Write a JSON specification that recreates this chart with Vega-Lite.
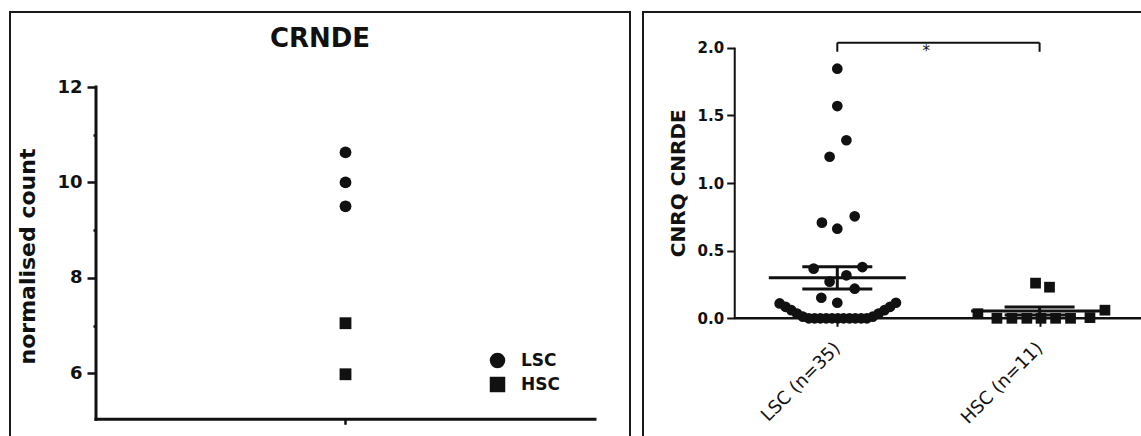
{
  "$schema": "https://vega.github.io/schema/vega-lite/v6.json",
  "background": "white",
  "padding": {"left": 9, "top": 11, "right": 0, "bottom": 0},
  "spacing": 11,
  "config": {
    "view": {"stroke": "#1a1a1a", "strokeWidth": 2},
    "font": "DejaVu Sans",
    "axis": {"grid": false, "domain": false, "labelColor": "#111", "tickColor": "#111", "titleColor": "#111", "labelOverlap": false, "labelFlush": false}
  },
  "datasets": {
    "crnde_counts": [
      {"group": "LSC", "count": 10.63},
      {"group": "LSC", "count": 10.0},
      {"group": "LSC", "count": 9.5},
      {"group": "HSC", "count": 7.05},
      {"group": "HSC", "count": 5.98}
    ],
    "cnrq": [
      {"group": "LSC", "g": 1, "slot": 1.0, "cnrq": 1.845},
      {"group": "LSC", "g": 1, "slot": 1.0, "cnrq": 1.569},
      {"group": "LSC", "g": 1, "slot": 1.045, "cnrq": 1.316},
      {"group": "LSC", "g": 1, "slot": 0.962, "cnrq": 1.194},
      {"group": "LSC", "g": 1, "slot": 1.086, "cnrq": 0.754},
      {"group": "LSC", "g": 1, "slot": 0.924, "cnrq": 0.707},
      {"group": "LSC", "g": 1, "slot": 1.0, "cnrq": 0.662},
      {"group": "LSC", "g": 1, "slot": 0.883, "cnrq": 0.367},
      {"group": "LSC", "g": 1, "slot": 1.124, "cnrq": 0.379},
      {"group": "LSC", "g": 1, "slot": 1.045, "cnrq": 0.318},
      {"group": "LSC", "g": 1, "slot": 0.962, "cnrq": 0.271},
      {"group": "LSC", "g": 1, "slot": 1.086, "cnrq": 0.219},
      {"group": "LSC", "g": 1, "slot": 0.921, "cnrq": 0.152},
      {"group": "LSC", "g": 1, "slot": 1.0, "cnrq": 0.115},
      {"group": "LSC", "g": 1, "slot": 0.715, "cnrq": 0.11},
      {"group": "LSC", "g": 1, "slot": 0.744, "cnrq": 0.085},
      {"group": "LSC", "g": 1, "slot": 0.773, "cnrq": 0.06},
      {"group": "LSC", "g": 1, "slot": 0.801, "cnrq": 0.035},
      {"group": "LSC", "g": 1, "slot": 0.83, "cnrq": 0.012},
      {"group": "LSC", "g": 1, "slot": 0.859, "cnrq": 0.0},
      {"group": "LSC", "g": 1, "slot": 0.888, "cnrq": 0.0},
      {"group": "LSC", "g": 1, "slot": 0.916, "cnrq": 0.0},
      {"group": "LSC", "g": 1, "slot": 0.945, "cnrq": 0.0},
      {"group": "LSC", "g": 1, "slot": 0.974, "cnrq": 0.0},
      {"group": "LSC", "g": 1, "slot": 1.003, "cnrq": 0.0},
      {"group": "LSC", "g": 1, "slot": 1.031, "cnrq": 0.0},
      {"group": "LSC", "g": 1, "slot": 1.06, "cnrq": 0.0},
      {"group": "LSC", "g": 1, "slot": 1.089, "cnrq": 0.0},
      {"group": "LSC", "g": 1, "slot": 1.118, "cnrq": 0.0},
      {"group": "LSC", "g": 1, "slot": 1.146, "cnrq": 0.0},
      {"group": "LSC", "g": 1, "slot": 1.175, "cnrq": 0.012},
      {"group": "LSC", "g": 1, "slot": 1.204, "cnrq": 0.035},
      {"group": "LSC", "g": 1, "slot": 1.233, "cnrq": 0.06},
      {"group": "LSC", "g": 1, "slot": 1.261, "cnrq": 0.085},
      {"group": "LSC", "g": 1, "slot": 1.29, "cnrq": 0.115},
      {"group": "HSC", "g": 2, "slot": 1.98, "cnrq": 0.26},
      {"group": "HSC", "g": 2, "slot": 2.049, "cnrq": 0.23},
      {"group": "HSC", "g": 2, "slot": 1.695, "cnrq": 0.034},
      {"group": "HSC", "g": 2, "slot": 1.789, "cnrq": 0.0},
      {"group": "HSC", "g": 2, "slot": 1.863, "cnrq": 0.0},
      {"group": "HSC", "g": 2, "slot": 1.937, "cnrq": 0.0},
      {"group": "HSC", "g": 2, "slot": 2.007, "cnrq": 0.0},
      {"group": "HSC", "g": 2, "slot": 2.079, "cnrq": 0.0},
      {"group": "HSC", "g": 2, "slot": 2.153, "cnrq": 0.0},
      {"group": "HSC", "g": 2, "slot": 2.249, "cnrq": 0.005},
      {"group": "HSC", "g": 2, "slot": 2.323, "cnrq": 0.06}
    ]
  },
  "hconcat": [
    {
      "width": 620,
      "height": 430,
      "title": {"text": "CRNDE", "font": "DejaVu Sans", "fontSize": 26, "fontWeight": "bold", "color": "#111", "anchor": "middle", "frame": "group", "offset": -61, "baseline": "alphabetic"},
      "layer": [
        {
          "data": {"name": "crnde_counts"},
          "mark": {"type": "point", "filled": true, "opacity": 1, "color": "#111", "size": 140},
          "encoding": {
            "x": {
              "datum": 1, "type": "quantitative",
              "scale": {"domain": [-0.3447, 2.1403], "nice": false, "zero": false},
              "axis": {"values": [1], "labels": false, "title": null, "tickSize": 5, "tickWidth": 2.5, "offset": -22.7, "orient": "bottom"}
            },
            "y": {
              "field": "count", "type": "quantitative",
              "scale": {"domain": [4.5608, 13.5717], "nice": false, "zero": false},
              "axis": {
                "values": [6, 7, 8, 9, 10, 11, 12],
                "labelExpr": "datum.value % 2 === 0 ? datum.label : ''",
                "tickSize": {"condition": {"test": "datum.value % 2 === 0", "value": 9}, "value": 3},
                "tickWidth": 2.5,
                "offset": -86,
                "labelFont": "DejaVu Sans", "labelFontSize": 18, "labelFontWeight": "bold", "labelPadding": 5,
                "title": "normalised count",
                "titleFont": "DejaVu Sans", "titleFontSize": 22, "titleFontWeight": "bold",
                "titleAngle": -90, "titleX": -61.5, "titleY": 244, "titleAlign": "center", "titleBaseline": "alphabetic"
              }
            },
            "shape": {
              "field": "group", "type": "nominal",
              "scale": {"domain": ["LSC", "HSC"], "range": ["circle", "square"]},
              "legend": {
                "orient": "none", "legendX": 479, "legendY": 340, "title": null, "padding": 0,
                "symbolSize": 240, "symbolFillColor": "#111", "symbolStrokeColor": "#111", "symbolStrokeWidth": 0,
                "labelFont": "DejaVu Sans", "labelFontSize": 17, "labelFontWeight": "bold", "labelColor": "#111",
                "labelOffset": 15, "rowPadding": 6
              }
            }
          }
        },
        {
          "data": {"values": [{}]},
          "mark": {"type": "rule", "color": "#111", "strokeWidth": 3, "strokeCap": "square"},
          "encoding": {
            "x": {"datum": 0, "type": "quantitative"},
            "y": {"datum": 5.0365, "type": "quantitative"},
            "y2": {"datum": 12}
          }
        },
        {
          "data": {"values": [{}]},
          "mark": {"type": "rule", "color": "#111", "strokeWidth": 3, "strokeCap": "square"},
          "encoding": {
            "x": {"datum": 0, "type": "quantitative"},
            "x2": {"datum": 2},
            "y": {"datum": 5.0365, "type": "quantitative"}
          }
        }
      ]
    },
    {
      "width": 510,
      "height": 432,
      "layer": [
        {
          "data": {"name": "cnrq"},
          "mark": {"type": "point", "filled": true, "opacity": 1, "color": "#111", "size": 115},
          "encoding": {
            "x": {
              "field": "slot", "type": "quantitative",
              "scale": {"domain": [0.0395, 2.5606], "nice": false, "zero": false},
              "axis": {
                "values": [1, 2],
                "labelExpr": "datum.value === 1 ? 'LSC (n=35)' : 'HSC (n=11)'",
                "labelAngle": -45, "labelAlign": "right", "labelBaseline": "middle",
                "labelFont": "DejaVu Sans", "labelFontSize": 18, "labelPadding": 19,
                "tickSize": 8, "tickWidth": 2, "offset": -125.7, "title": null, "orient": "bottom"
              }
            },
            "y": {
              "field": "cnrq", "type": "quantitative",
              "title": "CNRQ CNRDE",
              "scale": {"domain": [-0.929, 2.2639], "nice": false, "zero": false},
              "axis": {
                "values": [0, 0.5, 1, 1.5, 2], "format": ".1f",
                "offset": -91.7, "tickSize": 8, "tickWidth": 2,
                "labelFont": "DejaVu Sans", "labelFontSize": 15, "labelFontWeight": "bold", "labelPadding": 3,
                "title": "CNRQ CNRDE",
                "titleFont": "DejaVu Sans", "titleFontSize": 20, "titleFontWeight": "bold",
                "titleAngle": -90, "titleX": -50, "titleY": 170.7, "titleAlign": "center", "titleBaseline": "alphabetic"
              }
            },
            "shape": {
              "field": "group", "type": "nominal",
              "scale": {"domain": ["LSC", "HSC"], "range": ["circle", "square"]},
              "legend": null
            }
          }
        },
        {
          "data": {"values": [{}]},
          "mark": {"type": "rule", "color": "#111", "strokeWidth": 2},
          "encoding": {
            "x": {"datum": 0.493, "type": "quantitative"},
            "y": {"datum": 0, "type": "quantitative"},
            "y2": {"datum": 2}
          }
        },
        {
          "data": {"values": [{}]},
          "mark": {"type": "rule", "color": "#111", "strokeWidth": 2.5},
          "encoding": {
            "x": {"datum": 0.493, "type": "quantitative"},
            "x2": {"datum": 2.5606},
            "y": {"datum": 0, "type": "quantitative"}
          }
        },
        {
          "data": {"values": [{}]},
          "mark": {"type": "rule", "color": "#111", "strokeWidth": 2},
          "encoding": {
            "x": {"datum": 1, "type": "quantitative"},
            "x2": {"datum": 2},
            "y": {"datum": 2.037, "type": "quantitative"}
          }
        },
        {
          "data": {"values": [{}]},
          "mark": {"type": "rule", "color": "#111", "strokeWidth": 2},
          "encoding": {
            "x": {"datum": 1, "type": "quantitative"},
            "y": {"datum": 1.97, "type": "quantitative"},
            "y2": {"datum": 2.037}
          }
        },
        {
          "data": {"values": [{}]},
          "mark": {"type": "rule", "color": "#111", "strokeWidth": 2},
          "encoding": {
            "x": {"datum": 2, "type": "quantitative"},
            "y": {"datum": 1.97, "type": "quantitative"},
            "y2": {"datum": 2.037}
          }
        },
        {
          "data": {"values": [{}]},
          "mark": {"type": "text", "text": "*", "font": "DejaVu Sans", "fontSize": 15, "fill": "#111", "baseline": "middle", "align": "center"},
          "encoding": {
            "x": {"datum": 1.44, "type": "quantitative"},
            "y": {"datum": 1.975, "type": "quantitative"}
          }
        },
        {
          "data": {"name": "cnrq"},
          "mark": {"type": "tick", "orient": "horizontal", "size": 137, "thickness": 3, "color": "#111", "opacity": 1},
          "encoding": {
            "x": {"field": "g", "type": "quantitative", "title": null},
            "y": {"aggregate": "mean", "field": "cnrq", "type": "quantitative", "title": "CNRQ CNRDE"}
          }
        },
        {
          "data": {"name": "cnrq"},
          "mark": {"type": "errorbar", "extent": "stderr", "orient": "vertical", "thickness": 3, "color": "#111", "opacity": 1, "ticks": {"size": 70, "thickness": 3, "color": "#111", "opacity": 1}},
          "encoding": {
            "x": {"field": "g", "type": "quantitative", "title": null},
            "y": {"field": "cnrq", "type": "quantitative", "title": "CNRQ CNRDE"}
          }
        }
      ]
    }
  ]
}
